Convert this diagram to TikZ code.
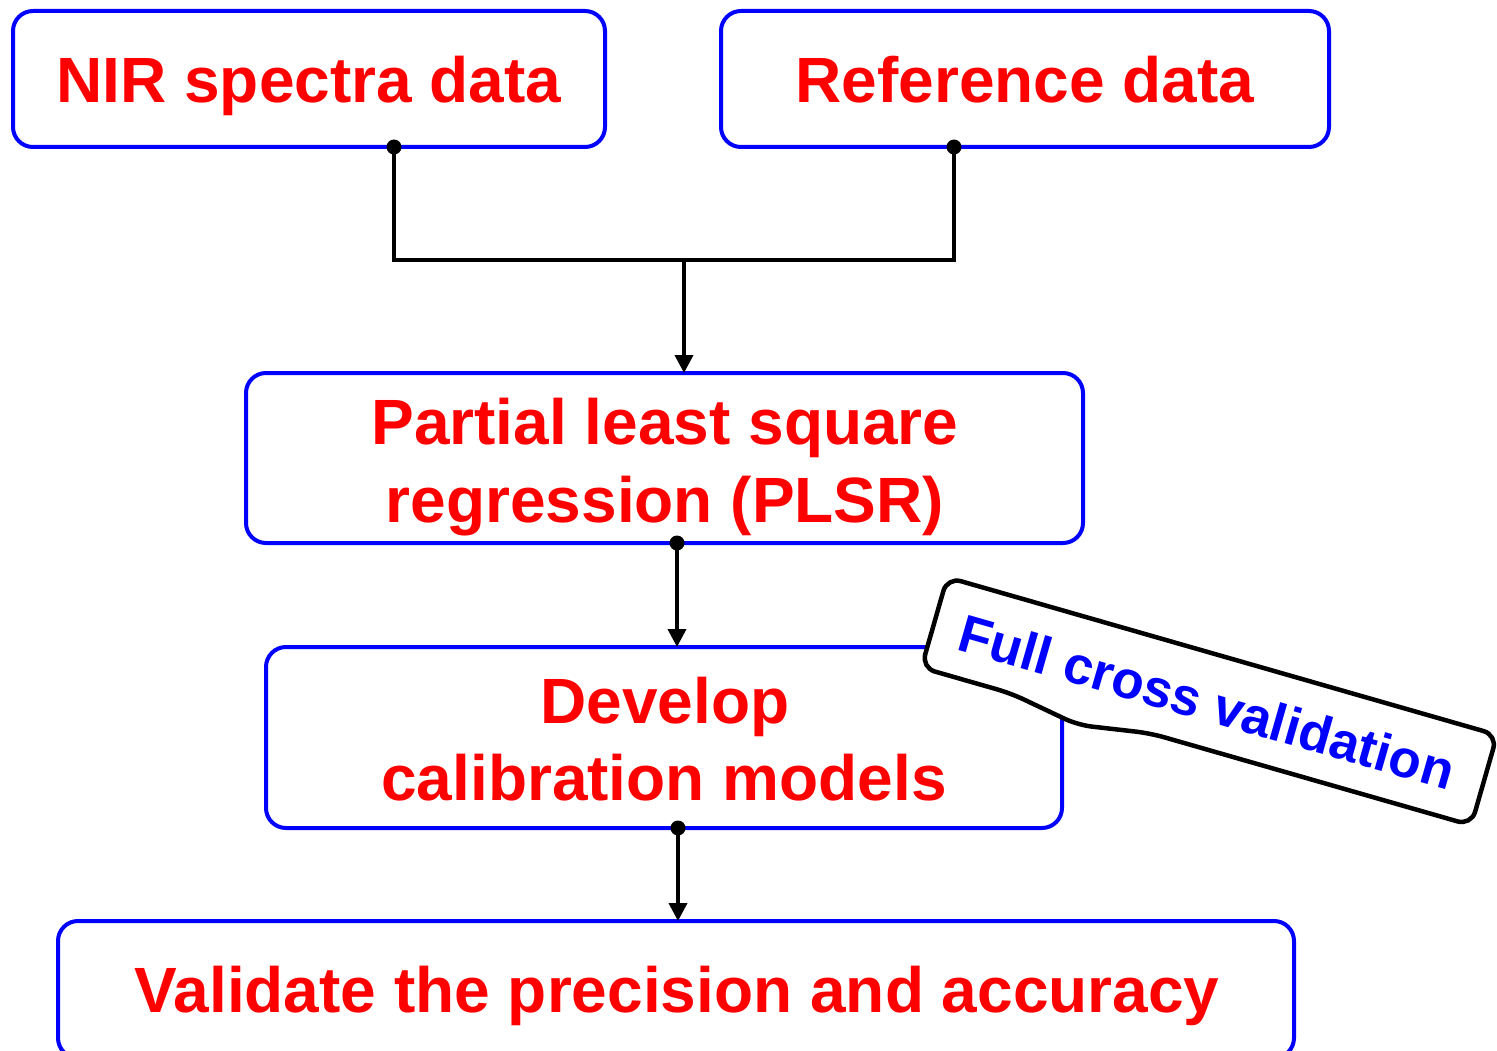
\documentclass[tikz,border=0pt]{standalone}
\usepackage{fontspec}
\setmainfont{Liberation Sans}
\usetikzlibrary{arrows.meta}
\definecolor{boxblue}{RGB}{0,0,255}
\definecolor{txtred}{RGB}{255,0,0}
\begin{document}
\begin{tikzpicture}[x=1pt,y=-1pt,
  box/.style={draw=boxblue, line width=4pt, rounded corners=20pt, inner sep=0pt, outer sep=0pt, fill=white},
  lbl/.style={text=txtred, font=\fontsize{64}{78}\selectfont\bfseries, inner sep=0pt, anchor=base},
  conn/.style={line width=3.8pt, black},
  arr/.style={conn, -{Triangle[length=18pt,width=18pt]}},
  dotr/.style={fill=black},
  callout/.style={draw=black, line width=4.5pt, fill=white, rounded corners=14pt},
  calltxt/.style={text=boxblue, font=\fontsize{53}{64}\selectfont\bfseries, inner sep=0pt, anchor=base}]
\useasboundingbox (0,0) rectangle (1497,1051);

% boxes
\node[box, minimum width=592pt, minimum height=136pt] (nir) at (309,79) {};
\node[box, minimum width=608pt, minimum height=136pt] (ref) at (1025,79) {};
\node[box, minimum width=837pt, minimum height=170pt] (plsr) at (664.5,458) {};
\node[box, minimum width=796pt, minimum height=181pt] (dev) at (664,737.5) {};
\node[box, minimum width=1236pt, minimum height=137pt] (val) at (676,989.5) {};

% labels
\node[lbl] (nirt) at (309,103) {NIR spectra data};
\node[lbl] (reft) at (1025,103) {Reference data};
\node[lbl] (plsrt1) at (665,444) {Partial least square};
\node[lbl] (plsrt2) at (665,522) {regression (PLSR)};
\node[lbl] (devt1) at (665,723) {Develop};
\node[lbl] (devt2) at (664,800) {calibration models};
\node[lbl] (valt) at (677,1012) {Validate the precision and accuracy};

% connectors
\coordinate (d1) at ([xshift=85pt]nir.south);
\coordinate (d2) at ([xshift=-71pt]ref.south);
\coordinate (jn) at (684,260);
\draw[conn] (d1) |- (jn) -| (d2);
\draw[arr] (jn) -- (jn |- plsr.north);
\coordinate (d3) at ([xshift=12.5pt]plsr.south);
\draw[arr] (d3) -- (d3 |- dev.north);
\coordinate (d4) at ([xshift=14pt]dev.south);
\draw[arr] (d4) -- (d4 |- val.north);
\foreach \d in {d1,d2,d3,d4} \fill[dotr] (\d) circle[radius=7.5pt];

% callout
\begin{scope}[shift={(947.3,577.3)}, rotate=-16]
  \draw[callout] (0,0) -- (572,0) -- (572,94) -- (238,94) -- (166,106) -- (93,94) -- (0,94) -- cycle;
  \node[calltxt, rotate=-16] (fcv) at (284,67) {Full cross validation};
\end{scope}
\end{tikzpicture}
\end{document}
